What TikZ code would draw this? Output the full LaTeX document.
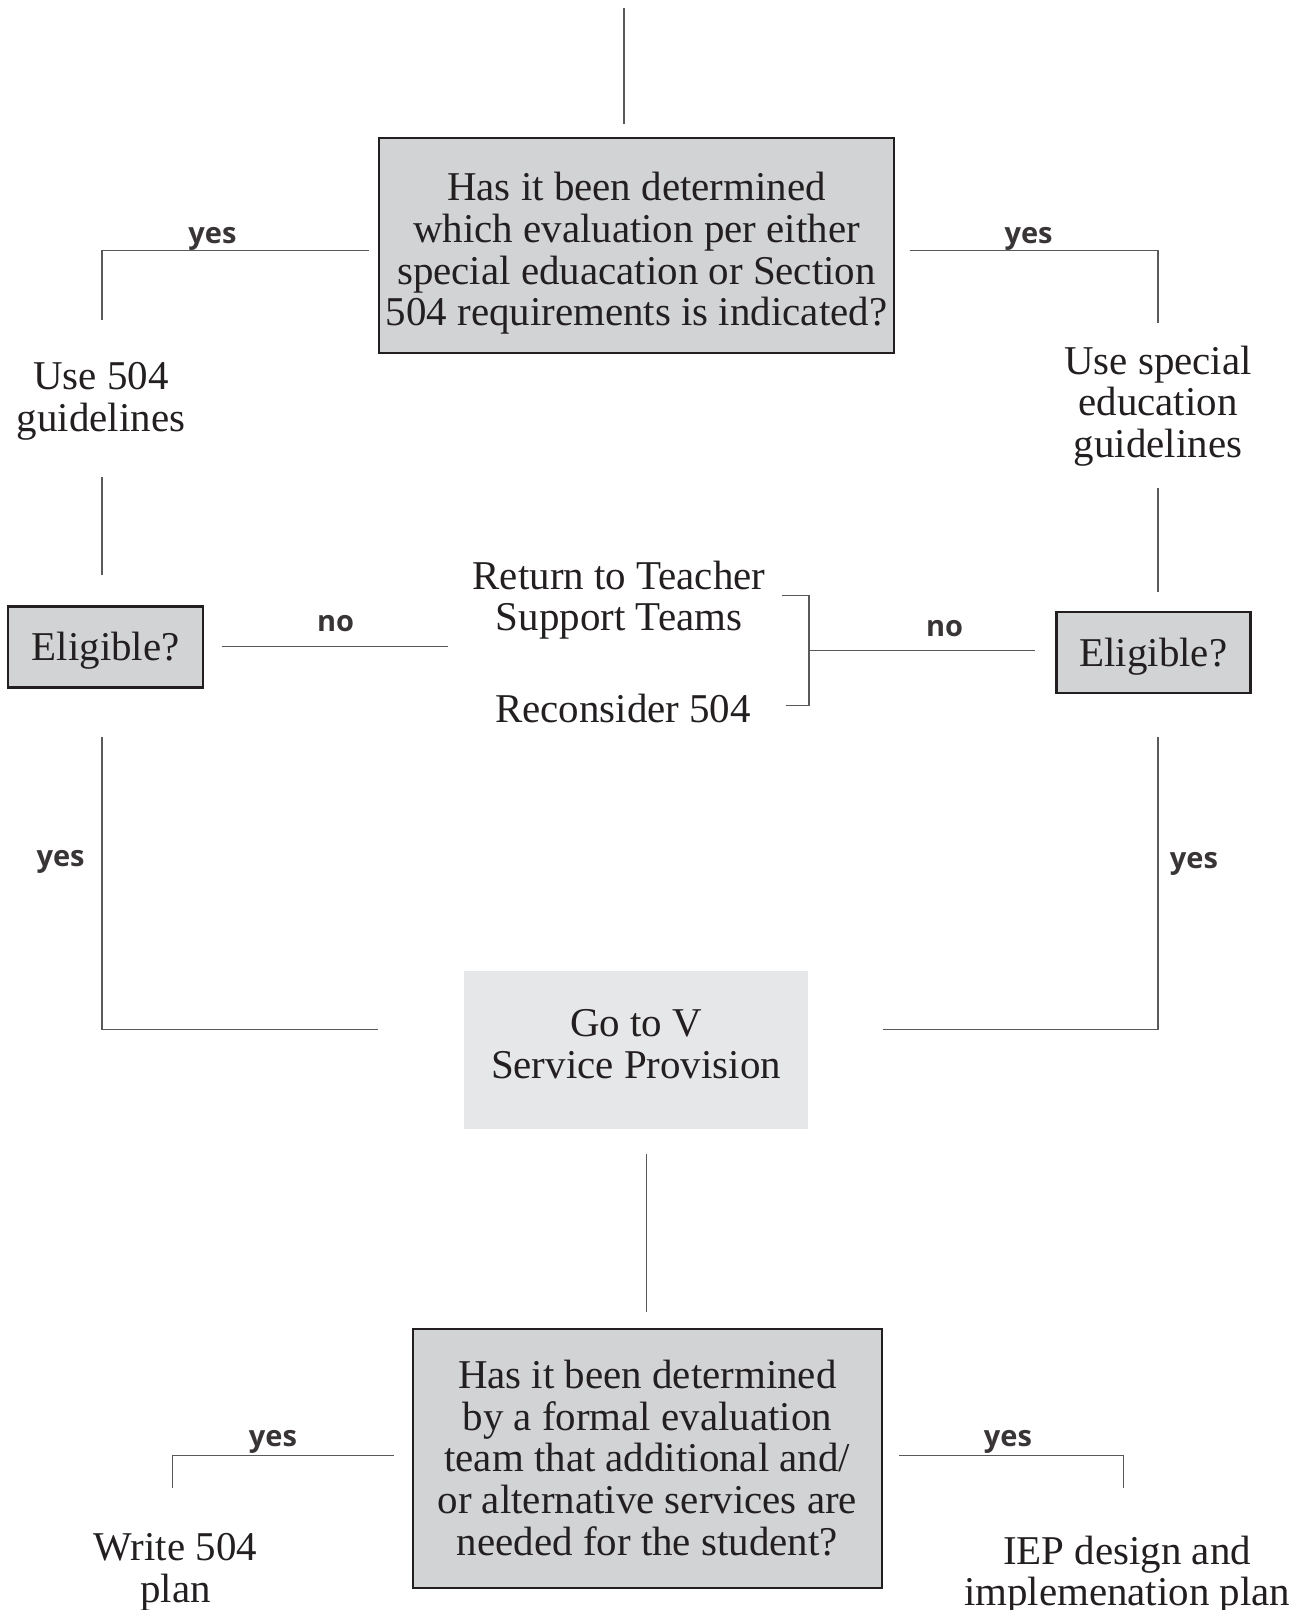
\documentclass[tikz,border=0pt]{standalone}
\usepackage{fontspec}
\setmainfont{Liberation Serif}
\newfontfamily\answerfont{Open Sans}
\usepackage{tikz}

\definecolor{boxgray}{HTML}{D1D3D4}
\definecolor{palegray}{HTML}{E6E7E8}
\definecolor{inkblack}{HTML}{231F20}
\definecolor{linegray}{HTML}{58595B}

\begin{document}
\begin{tikzpicture}[
    x=0.02cm, y=-0.02cm,
    question/.style={draw=inkblack, line width=1.3pt, fill=boxgray, inner sep=0pt},
    target/.style={fill=palegray, inner sep=0pt},
    outcome/.style={align=center, inner sep=0pt, text=inkblack, font=\fontsize{23.3}{23.7}\selectfont},
    answer/.style={anchor=base, inner sep=0pt, text=inkblack!90, font=\answerfont\bfseries\fontsize{16.5}{16.5}\selectfont},
    link/.style={draw=linegray, line width=0.65pt}
]
\useasboundingbox (0,0) rectangle (1313,1610);

% First question
\coordinate (in) at (624, 8);
\coordinate (inend) at (624, 124);
\draw[link] (in) -- (inend);
\node[question, minimum width=10.3cm, minimum height=4.3cm] (q1) at (636.5, 245.5) {};
\node[outcome] (q1text) at ([yshift=-0.16cm]q1.center) {Has it been determined\\which evaluation per either\\special eduacation or Section\\504 requirements is indicated?};

% Left branch: 504
\coordinate (q1l) at (368.5, 250.5);
\coordinate (q1ll) at (102, 320);
\draw[link] (q1l) -| (q1ll);
\node[answer] (y1) at (212.5, 243) {yes};
\node[outcome] (use504) at (101, 401) {Use 504\\guidelines};
\coordinate (u504a) at (102, 477);
\coordinate (u504b) at (102, 575);
\draw[link] (u504a) -- (u504b);
\node[question, minimum width=3.9cm, minimum height=1.62cm] (elig1) at (105.7, 647) {};
\node[outcome] (elig1text) at ([yshift=-0.07cm]elig1.center) {Eligible?};

% Right branch: special education
\coordinate (q1r) at (909.6, 250.5);
\coordinate (q1rr) at (1158, 323);
\draw[link] (q1r) -| (q1rr);
\node[answer] (y2) at (1028.6, 243) {yes};
\node[outcome] (usesped) at (1158, 406) {Use special\\education\\guidelines};
\coordinate (usa) at (1158, 488);
\coordinate (usb) at (1158, 592);
\draw[link] (usa) -- (usb);
\node[question, minimum width=3.88cm, minimum height=1.62cm] (elig2) at (1153.4, 652.4) {};
\node[outcome] (elig2text) at ([yshift=-0.08cm]elig2.center) {Eligible?};

% Not eligible
\coordinate (n1a) at (221.7, 646.8);
\coordinate (n1b) at (447.6, 646.8);
\draw[link] (n1a) -- (n1b);
\node[answer] (n1) at (335.7, 631) {no};
\node[outcome] (rtst) at (619, 600) {Return to Teacher\\Support Teams};
\node[outcome] (rec504) at (623, 708) {Reconsider 504};
\coordinate (bt) at (782, 595.4);
\coordinate (bm) at (809, 650.9);
\coordinate (bb) at (786.4, 705.3);
\coordinate (n2b) at (1034.8, 650.9);
\draw[link] (bt) -| (bm) |- (bb);
\draw[link] (bm) -- (n2b);
\node[answer] (n2) at (944.5, 636) {no};

% Eligible: go to service provision
\coordinate (e1a) at (102, 737);
\coordinate (e1b) at (377.8, 1029.7);
\draw[link] (e1a) |- (e1b);
\node[answer] (y3) at (60.6, 866) {yes};
\coordinate (e2a) at (1158, 737);
\coordinate (e2b) at (882.9, 1029.7);
\draw[link] (e2a) |- (e2b);
\node[answer] (y4) at (1194, 868) {yes};
\node[target, minimum width=6.88cm, minimum height=3.16cm] (gotov) at (636, 1050.2) {};
\node[outcome] (gotovtext) at ([yshift=0.12cm]gotov.center) {Go to V\\Service Provision};

% Second question
\coordinate (ga) at (646.8, 1153.9);
\coordinate (gb) at (646.8, 1312);
\draw[link] (ga) -- (gb);
\node[question, minimum width=9.38cm, minimum height=5.18cm] (q2) at (647.3, 1458.8) {};
\node[outcome] (q2text) at ([yshift=0.02cm]q2.center) {Has it been determined\\by a formal evaluation\\team that additional and/\\or alternative services are\\needed for the student?};

% Plans
\coordinate (q2l) at (394.2, 1455.7);
\coordinate (q2ll) at (172.5, 1487.6);
\draw[link] (q2l) -| (q2ll);
\node[answer] (y5) at (273, 1446) {yes};
\node[outcome] (plan504) at (175.5, 1572) {Write 504\\plan};
\coordinate (q2r) at (899.3, 1455.7);
\coordinate (q2rr) at (1123.1, 1487.6);
\draw[link] (q2r) -| (q2rr);
\node[answer] (y6) at (1008, 1446) {yes};
\node[outcome] (iep) at (1127.2, 1575) {IEP design and\\implemenation plan};
\end{tikzpicture}
\end{document}
